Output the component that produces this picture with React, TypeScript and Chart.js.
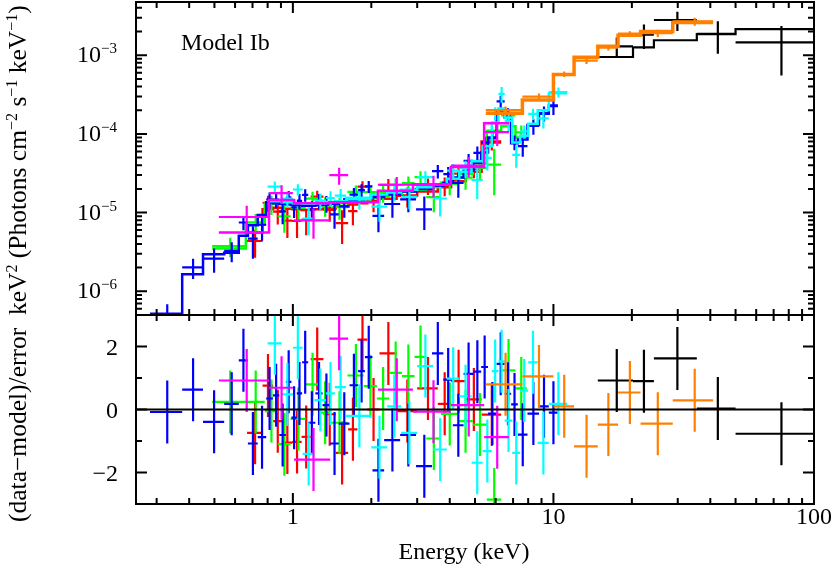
import { useEffect, useRef } from "react";
import { Chart, registerables } from "chart.js";

Chart.register(...registerables);

// axis ranges
const energyRange = [0.25, 100];
const fluxRange = [5e-7, 4.75e-3];
const residualRange = [-3, 3];

// tick labels
const energyTickValues = [1, 10, 100];
const energyTickLabels = ["1", "10", "100"];
const fluxTickExponents = [-6, -5, -4, -3];
const residualTickValues = [2, 0, -2];
const residualTickLabels = ["2", "0", "\u22122"];

// each group: bin edges (keV), model (keV^2 ph cm^-2 s^-1 keV^-1), error / model, (data-model)/error
const blackLo = [14.8, 20.2, 24.3, 35.5, 50];
const blackHi = [20.2, 24.3, 35.5, 50, 100];
const blackModel = [9.5e-4, 1.26e-3, 1.55e-3, 1.85e-3, 2.15e-3];
const blackSigma = [0.4, 0.5, 0.5, 0.45, 0.42];
const blackResid = [0.92, 0.9, 1.62, 0.03, -0.77];

const redLo = [0.667, 0.765, 0.84, 0.91, 0.995, 1.08, 1.17, 1.31, 1.46, 1.63, 1.77, 1.93, 2.15, 2.5, 3.0, 3.6, 4.05, 4.6, 5.3];
const redHi = [0.765, 0.84, 0.91, 0.995, 1.08, 1.17, 1.31, 1.46, 1.63, 1.77, 1.93, 2.15, 2.5, 3.0, 3.6, 4.05, 4.6, 5.3, 6.3];
const redModel = [5.6e-6, 1.1e-5, 1.15e-5, 1.12e-5, 1.1e-5, 1.08e-5, 1.1e-5, 1.13e-5, 1.2e-5, 1.27e-5, 1.32e-5, 1.4e-5, 1.5e-5, 1.65e-5, 1.85e-5, 2.1e-5, 2.5e-5, 3.3e-5, 8.0e-5];
const redSigma = [0.3, 0.28, 0.28, 0.28, 0.28, 0.28, 0.28, 0.28, 0.28, 0.28, 0.28, 0.28, 0.28, 0.28, 0.28, 0.28, 0.28, 0.25, 0.2];
const redResid = [-0.74, 0.76, -0.37, -1.05, -1.03, -0.87, 1.6, -0.15, -1.38, -0.63, 2.22, 0.0, 1.78, -0.05, 0.67, 0.18, 0.9, 0.32, -0.16];

const greenLo = [0.49, 0.66, 0.78, 0.875, 0.98, 1.12, 1.26, 1.4, 1.62, 1.87, 2.1, 2.34, 2.62, 2.93, 3.25, 3.7, 4.3, 4.9, 5.55, 6.3, 7.15];
const greenHi = [0.66, 0.78, 0.875, 0.98, 1.12, 1.26, 1.4, 1.62, 1.87, 2.1, 2.34, 2.62, 2.93, 3.25, 3.7, 4.3, 4.9, 5.55, 6.3, 7.15, 7.9];
const greenModel = [3.5e-6, 7.0e-6, 1.3e-5, 1.28e-5, 1.25e-5, 1.24e-5, 1.26e-5, 1.32e-5, 1.42e-5, 1.52e-5, 1.62e-5, 1.72e-5, 1.85e-5, 1.95e-5, 2.1e-5, 2.4e-5, 3.1e-5, 4.2e-5, 1.1e-4, 1.25e-4, 9e-5];
const greenSigma = [0.3, 0.3, 0.27, 0.27, 0.27, 0.27, 0.27, 0.27, 0.27, 0.27, 0.27, 0.27, 0.27, 0.27, 0.27, 0.27, 0.27, 0.25, 0.22, 0.3, 0.25];
const greenResid = [0.24, 0.24, -0.05, -1.1, -0.3, 0.8, -0.1, -0.42, 1.08, 0.74, 0.35, 1.16, 1.06, 1.67, -0.92, -0.14, -0.37, -0.48, -2.86, 1.24, 0.67];

const blueLo = [0.283, 0.376, 0.452, 0.545, 0.62, 0.672, 0.733, 0.79, 0.838, 0.887, 0.94, 0.987, 1.035, 1.085, 1.145, 1.22, 1.3, 1.39, 1.5, 1.65, 1.78, 1.89, 2.02, 2.24, 2.58, 2.97, 3.42, 3.78, 4.11, 4.52, 4.93, 5.28, 5.61, 6.05, 6.5, 6.88, 7.3, 7.95, 8.8, 9.6];
const blueHi = [0.376, 0.452, 0.545, 0.62, 0.672, 0.733, 0.79, 0.838, 0.887, 0.94, 0.987, 1.035, 1.085, 1.145, 1.22, 1.3, 1.39, 1.5, 1.65, 1.78, 1.89, 2.02, 2.24, 2.58, 2.97, 3.42, 3.78, 4.11, 4.52, 4.93, 5.28, 5.61, 6.05, 6.5, 6.88, 7.3, 7.95, 8.8, 9.6, 10.4];
const blueModel = [5.2e-7, 1.65e-6, 2.95e-6, 3.1e-6, 5.1e-6, 6.9e-6, 9.3e-6, 1.35e-5, 1.32e-5, 1.3e-5, 1.28e-5, 1.25e-5, 1.25e-5, 1.22e-5, 1.22e-5, 1.25e-5, 1.27e-5, 1.3e-5, 1.35e-5, 1.42e-5, 1.48e-5, 1.52e-5, 1.58e-5, 1.7e-5, 1.85e-5, 2.0e-5, 2.2e-5, 2.4e-5, 2.8e-5, 3.4e-5, 4.3e-5, 5.8e-5, 9e-5, 1.9e-4, 1.6e-4, 7.6e-5, 8.5e-5, 1.3e-4, 1.8e-4, 2.3e-4];
const blueSigma = [0.34, 0.35, 0.3, 0.3, 0.3, 0.3, 0.28, 0.25, 0.25, 0.25, 0.25, 0.25, 0.25, 0.25, 0.25, 0.25, 0.25, 0.25, 0.25, 0.25, 0.25, 0.25, 0.22, 0.25, 0.25, 0.25, 0.3, 0.3, 0.3, 0.3, 0.28, 0.25, 0.2, 0.25, 0.22, 0.22, 0.22, 0.22, 0.22, 0.22];
const blueResid = [-0.08, 0.63, -0.39, 0.18, 1.56, -1.08, -0.88, 0.35, 0.45, -0.81, 0.88, -0.26, 0.51, 1.5, -0.42, 0.51, 0.14, -1.08, -0.45, 0.77, 1.22, 1.66, -1.93, -0.97, -0.81, -1.8, 1.78, 0.95, -0.5, 1.13, 1.2, 1.35, -0.13, 1.45, 0.5, 0.16, -0.8, -0.13, 0.1, -0.1];

const cyanLo = [0.8, 0.905, 1.0, 1.09, 1.21, 1.34, 1.45, 1.6, 2.0, 2.3, 2.6, 3.0, 3.45, 3.9, 4.35, 4.85, 5.35, 5.8, 6.15, 6.5, 6.95, 7.45, 8.0, 8.7, 9.6];
const cyanHi = [0.905, 1.0, 1.09, 1.21, 1.34, 1.45, 1.6, 2.0, 2.3, 2.6, 3.0, 3.45, 3.9, 4.35, 4.85, 5.35, 5.8, 6.15, 6.5, 6.95, 7.45, 8.0, 8.7, 9.6, 11.3];
const cyanModel = [1.4e-5, 1.35e-5, 1.32e-5, 1.3e-5, 1.32e-5, 1.36e-5, 1.4e-5, 1.55e-5, 1.7e-5, 1.8e-5, 1.95e-5, 2.1e-5, 2.3e-5, 2.7e-5, 3.3e-5, 4.5e-5, 7e-5, 1.4e-4, 2.1e-4, 1.6e-4, 7.8e-5, 9.5e-5, 1.35e-4, 2.0e-4, 3.3e-4];
const cyanSigma = [0.25, 0.25, 0.25, 0.25, 0.25, 0.25, 0.25, 0.25, 0.25, 0.25, 0.25, 0.25, 0.27, 0.27, 0.27, 0.25, 0.22, 0.25, 0.35, 0.25, 0.22, 0.22, 0.22, 0.2, 0.15];
const cyanResid = [2.1, 0.48, 1.96, -1.41, 0.3, 0.51, 0.71, -0.2, -1.2, 0.1, -0.74, 1.38, -1.27, 0.98, 0.42, -1.69, -1.32, 1.22, 1.53, -0.35, -1.38, 0.6, 1.5, -1.06, 0.18];

const magentaLo = [0.52, 0.81, 1.01, 1.38, 2.12, 2.89, 4.04, 5.42];
const magentaHi = [0.81, 1.0, 1.39, 1.63, 2.89, 4.04, 5.42, 6.75];
const magentaModel = [5.6e-6, 1.45e-5, 1.32e-5, 1.35e-5, 1.9e-5, 2.3e-5, 3.8e-5, 1.37e-4];
const magentaSigma = [0.62, 0.32, 0.25, 0.54, 0.3, 0.3, 0.3, 0.26];
const magentaResid = [0.92, 0.69, -1.59, 2.25, 0.63, -0.07, 0.14, -0.88];

const orangeLo = [5.5, 7.6, 10, 12, 14.8, 17.7, 21.6, 28.7];
const orangeHi = [7.6, 10, 12, 14.8, 17.7, 21.6, 28.7, 41];
const orangeModel = [1.83e-4, 2.7e-4, 5.7e-4, 9.4e-4, 1.3e-3, 1.8e-3, 2.0e-3, 2.6e-3];
const orangeSigma = [0.12, 0.1, 0.08, 0.08, 0.08, 0.08, 0.1, 0.12];
const orangeResid = [0.8, 1.05, 0.1, -1.17, -0.48, 0.54, -0.45, 0.29];

const groups = [
  { color: "#000000", lo: blackLo, hi: blackHi, model: blackModel, sig: blackSigma, res: blackResid, lw: 2.2 },
  { color: "#ff0000", lo: redLo, hi: redHi, model: redModel, sig: redSigma, res: redResid, lw: 2.5 },
  { color: "#00ff00", lo: greenLo, hi: greenHi, model: greenModel, sig: greenSigma, res: greenResid, lw: 2.5 },
  { color: "#0000ff", lo: blueLo, hi: blueHi, model: blueModel, sig: blueSigma, res: blueResid, lw: 2.5 },
  { color: "#00ffff", lo: cyanLo, hi: cyanHi, model: cyanModel, sig: cyanSigma, res: cyanResid, lw: 2.5 },
  { color: "#ff00ff", lo: magentaLo, hi: magentaHi, model: magentaModel, sig: magentaSigma, res: magentaResid, lw: 2.5 },
  { color: "#ff8000", lo: orangeLo, hi: orangeHi, model: orangeModel, sig: orangeSigma, res: orangeResid, lw: 3.5 },
];

const yTitle: [string, boolean][] = [
  ["(data\u2212model)/error  keV", false],
  ["2", true],
  [" (Photons cm", false],
  ["\u22122", true],
  [" s", false],
  ["\u22121", true],
  [" keV", false],
  ["\u22121", true],
  [")", false],
];

const FONT = '24px "Liberation Serif", "Times New Roman", serif';
const SUP = '15px "Liberation Serif", "Times New Roman", serif';
const TITLE_FONT = '25.5px "Liberation Serif", "Times New Roman", serif';
const TITLE_SUP = '16px "Liberation Serif", "Times New Roman", serif';

type Group = (typeof groups)[number];

function fluxCrosses(g: Group) {
  const pts: { x: number; y: number | null }[] = [];
  g.lo.forEach((lo, i) => {
    const hi = g.hi[i];
    const e = (lo + hi) / 2;
    const s = g.model[i] * g.sig[i];
    const f = g.model[i] + g.res[i] * s;
    pts.push({ x: lo, y: f }, { x: hi, y: f }, { x: hi, y: null });
    pts.push({ x: e, y: Math.max(f - s, fluxRange[0] * 0.5) }, { x: e, y: f + s }, { x: e, y: null });
  });
  return pts;
}

function residCrosses(g: Group) {
  const pts: { x: number; y: number | null }[] = [];
  g.lo.forEach((lo, i) => {
    const hi = g.hi[i];
    const e = (lo + hi) / 2;
    const r = g.res[i];
    pts.push({ x: lo, y: r }, { x: hi, y: r }, { x: hi, y: null });
    pts.push({ x: e, y: r - 1 }, { x: e, y: r + 1 }, { x: e, y: null });
  });
  return pts;
}

function modelSteps(g: Group) {
  const pts = g.lo.map((lo, i) => ({ x: lo, y: g.model[i] }));
  pts.push({ x: g.hi[g.hi.length - 1], y: g.model[g.model.length - 1] });
  return pts;
}

const lineSet = (data: any[], color: string, width: number, stepped = false) => ({
  data,
  borderColor: color,
  borderWidth: width,
  pointRadius: 0,
  spanGaps: false,
  tension: 0,
  fill: false,
  clip: 0,
  stepped,
});

function logTicks(min: number, max: number) {
  const out: [number, boolean][] = [];
  for (let d = -8; d <= 3; d++) {
    for (let m = 1; m <= 9; m++) {
      const v = m * Math.pow(10, d);
      if (v >= min * 0.999 && v <= max * 1.001) out.push([v, m === 1]);
    }
  }
  return out;
}

function drawFrame(chart: any, yTicks: [number, boolean][]) {
  const { ctx, chartArea: a } = chart;
  const xs = chart.scales.x;
  const ys = chart.scales.y;
  ctx.save();
  ctx.strokeStyle = "#000";
  ctx.lineWidth = 2;
  ctx.strokeRect(a.left, a.top, a.right - a.left, a.bottom - a.top);
  ctx.beginPath();
  for (const [v, major] of logTicks(energyRange[0], energyRange[1])) {
    const px = xs.getPixelForValue(v);
    const len = major ? 11 : 6;
    ctx.moveTo(px, a.bottom);
    ctx.lineTo(px, a.bottom - len);
    ctx.moveTo(px, a.top);
    ctx.lineTo(px, a.top + len);
  }
  for (const [v, major] of yTicks) {
    const py = ys.getPixelForValue(v);
    const len = major ? 11 : 6;
    ctx.moveTo(a.left, py);
    ctx.lineTo(a.left + len, py);
    ctx.moveTo(a.right, py);
    ctx.lineTo(a.right - len, py);
  }
  ctx.stroke();
  ctx.restore();
}

function drawRich(ctx: CanvasRenderingContext2D, segs: [string, boolean][], x: number, y: number) {
  let cx = x;
  for (const [t, sup] of segs) {
    ctx.font = sup ? TITLE_SUP : TITLE_FONT;
    ctx.fillText(t, cx, sup ? y - 9 : y);
    cx += ctx.measureText(t).width;
  }
}

const topDecor = {
  id: "topDecor",
  afterDraw(chart: any) {
    const ys = chart.scales.y;
    drawFrame(chart, logTicks(fluxRange[0], fluxRange[1]));
    const ctx: CanvasRenderingContext2D = chart.ctx;
    ctx.save();
    ctx.fillStyle = "#000";
    ctx.textBaseline = "alphabetic";
    for (const e of fluxTickExponents) {
      const py = ys.getPixelForValue(Math.pow(10, e));
      ctx.font = FONT;
      ctx.textAlign = "right";
      ctx.fillText("10", 101, py + 7);
      ctx.font = SUP;
      ctx.textAlign = "left";
      ctx.fillText("\u2212" + Math.abs(e), 101, py - 2);
    }
    ctx.font = FONT;
    ctx.textAlign = "left";
    ctx.fillText("Model Ib", 181, 50);
    ctx.restore();
  },
};

const bottomDecor = {
  id: "bottomDecor",
  afterDraw(chart: any) {
    const xs = chart.scales.x;
    const ys = chart.scales.y;
    const ticks: [number, boolean][] = [];
    for (let v = residualRange[0]; v <= residualRange[1]; v++) ticks.push([v, v % 2 === 0]);
    drawFrame(chart, ticks);
    const ctx: CanvasRenderingContext2D = chart.ctx;
    ctx.save();
    ctx.fillStyle = "#000";
    ctx.font = FONT;
    ctx.textBaseline = "alphabetic";
    ctx.textAlign = "right";
    residualTickValues.forEach((v, i) => {
      ctx.fillText(residualTickLabels[i], 118, ys.getPixelForValue(v) + 8);
    });
    ctx.textAlign = "center";
    energyTickValues.forEach((v, i) => {
      ctx.fillText(energyTickLabels[i], xs.getPixelForValue(v), 524);
    });
    ctx.fillText("Energy (keV)", 464, 559);
    ctx.translate(26, 522);
    ctx.rotate(-Math.PI / 2);
    ctx.textAlign = "left";
    drawRich(ctx, yTitle, 0, 0);
    ctx.restore();
  },
};

const baseOptions = (padding: any, yScale: any): any => ({
  animation: false,
  responsive: false,
  events: [],
  layout: { padding },
  plugins: { legend: { display: false }, tooltip: { enabled: false } },
  scales: {
    x: { type: "logarithmic", min: energyRange[0], max: energyRange[1], display: false },
    y: { ...yScale, display: false },
  },
});

export default function App() {
  const topRef = useRef<HTMLCanvasElement | null>(null);
  const bottomRef = useRef<HTMLCanvasElement | null>(null);

  useEffect(() => {
    document.body.style.margin = "0";
    let topChart: Chart | null = null;
    let bottomChart: Chart | null = null;

    // index 0 is drawn last, so reverse to keep the later groups on top
    const ordered = [...groups].reverse();

    if (topRef.current) {
      const sets: any[] = [];
      ordered.forEach((g) => {
        sets.push(lineSet(fluxCrosses(g), g.color, 2.2));
        sets.push(lineSet(modelSteps(g), g.color, g.lw, true));
      });
      topChart = new Chart(topRef.current, {
        type: "line",
        data: { datasets: sets },
        options: baseOptions(
          { left: 136, right: 17, top: 2, bottom: 251 },
          { type: "logarithmic", min: fluxRange[0], max: fluxRange[1] },
        ),
        plugins: [topDecor],
      });
    }

    if (bottomRef.current) {
      const sets: any[] = [];
      sets.push(lineSet([{ x: energyRange[0], y: 0 }, { x: energyRange[1], y: 0 }], "#000000", 2));
      ordered.forEach((g) => {
        sets.push(lineSet(residCrosses(g), g.color, 2.2));
      });
      bottomChart = new Chart(bottomRef.current, {
        type: "line",
        data: { datasets: sets },
        options: baseOptions(
          { left: 136, right: 17, top: 315, bottom: 62 },
          { type: "linear", min: residualRange[0], max: residualRange[1] },
        ),
        plugins: [bottomDecor],
      });
    }

    return () => {
      if (topChart) topChart.destroy();
      if (bottomChart) bottomChart.destroy();
    };
  }, []);

  return (
    <div style={{ position: "relative", width: 831, height: 566, background: "#fff" }}>
      <canvas ref={topRef} width={831} height={566} style={{ position: "absolute", left: 0, top: 0 }} />
      <canvas ref={bottomRef} width={831} height={566} style={{ position: "absolute", left: 0, top: 0 }} />
    </div>
  );
}
